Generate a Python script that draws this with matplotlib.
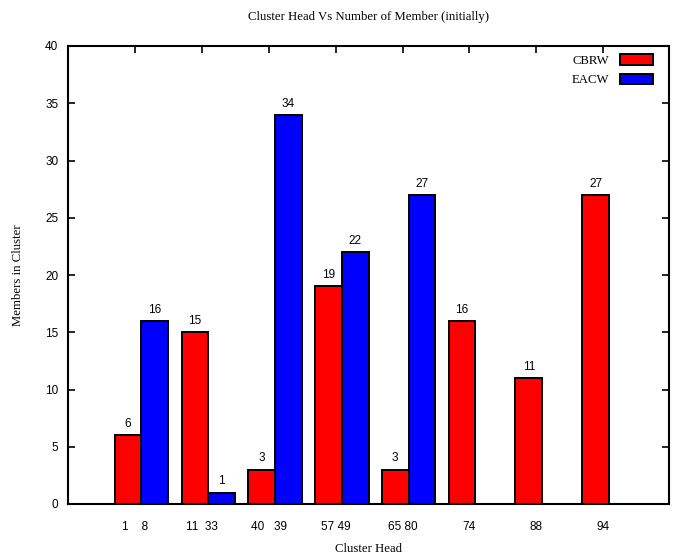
import numpy as np
import matplotlib
matplotlib.use("Agg")
from matplotlib import pyplot as plt

# data
heads = ["1    8", "11  33", "40   39", "57 49", "65 80", "74", "88", "94"]
cbrw = [6, 15, 3, 19, 3, 16, 11, 27]
eacw = [16, 1, 34, 22, 27, np.nan, np.nan, np.nan]

serif = "Liberation Serif"
sans = "Liberation Sans"

fig = plt.figure(figsize=(6.77, 5.57), dpi=100)
ax = fig.add_axes([68/677, 53/557, 601/677, 458/557])

x = np.arange(len(heads))
w = 0.4
ax.bar(x - w/2, cbrw, w, color="#ff0000", edgecolor="black", linewidth=1.4, label="CBRW")
ax.bar(x + w/2, eacw, w, color="#0000ff", edgecolor="black", linewidth=1.4, label="EACW")

for xi, v in zip(x, cbrw):
    ax.text(xi - w/2, v + 0.45, f"{v}", ha="center", va="bottom", fontsize=8.5, family=sans)
for xi, v in zip(x, eacw):
    if not np.isnan(v):
        ax.text(xi + w/2, v + 0.45, f"{int(v)}", ha="center", va="bottom", fontsize=8.5, family=sans)

ax.set_xlim(-1.1, 7.9)
ax.set_ylim(0, 40)
ax.set_yticks(range(0, 41, 5))
ax.set_xticks(x - 0.09)
ax.set_xticklabels(heads, family=sans, fontsize=8.5)
for lab in ax.get_yticklabels():
    lab.set_family(sans)
    lab.set_fontsize(8.5)
ax.tick_params(axis="y", direction="in", right=True, length=5, width=1.2, pad=7)
ax.tick_params(axis="x", direction="in", bottom=False, top=True, length=5, width=1.2, pad=12)
for s in ax.spines.values():
    s.set_linewidth(1.5)

fig.text(368/677, 1 - 17/557, "Cluster Head Vs Number of Member (initially)", family=serif,
         fontsize=9.2, ha="center", va="center")
fig.text(368/677, 1 - 549/557, "Cluster Head", family=serif, fontsize=9.2, ha="center", va="center")
fig.text(18/677, 1 - 275/557, "Members in Cluster", family=serif, fontsize=9.2, ha="center",
         va="center", rotation=90)

ax.legend(loc="upper right", bbox_to_anchor=(653/677, 1 - 54/557), bbox_transform=fig.transFigure,
          frameon=False, markerfirst=False, prop={"family": serif, "size": 9.2},
          handlelength=2.6, handleheight=0.9, labelspacing=0.55, borderaxespad=0, borderpad=0)

fig.savefig("out.png", dpi=100)
